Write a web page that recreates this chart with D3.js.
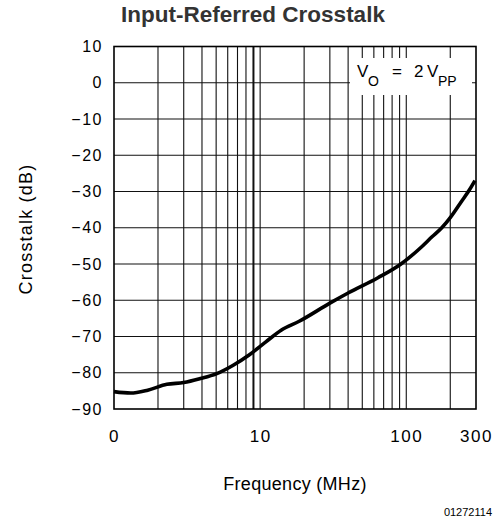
<!DOCTYPE html>
<html>
<head>
<meta charset="utf-8">
<script src="https://cdn.jsdelivr.net/npm/d3@7"></script>
<style>
  html, body { margin: 0; padding: 0; background: #fff; }
  svg { display: block; }
</style>
</head>
<body>
<div id="chart"></div>
<script>
// ---- data ----
const frequencyMHz = [1, 1.3, 1.7, 2.3, 3, 3.9, 5, 6.5, 8.4, 11, 14, 18.5, 30, 40, 64, 92, 127, 150, 175, 200, 238, 270, 295];
const crosstalkDb  = [-85.2, -85.6, -84.8, -83.2, -82.7, -81.6, -80.3, -78.0, -75.1, -71.4, -68.2, -65.8, -60.8, -58.0, -53.8, -50.0, -45.3, -42.5, -40.0, -37.2, -32.8, -29.6, -27.0];
const xTickValues = [1, 10, 100, 300];
const xTickLabels = ["0", "10", "100", "300"];
const yTickValues = [10, 0, -10, -20, -30, -40, -50, -60, -70, -80, -90];
const yTickLabels = ["10", "0", "\u221210", "\u221220", "\u221230", "\u221240", "\u221250", "\u221260", "\u221270", "\u221280", "\u221290"];
const xGridValues = [2, 3, 4, 5, 6, 7, 8, 9, 10, 20, 30, 40, 50, 60, 70, 80, 90, 100, 200];
const yGridValues = [0, -10, -20, -30, -40, -50, -60, -70, -80];
const titleText = "Input-Referred Crosstalk";
const xTitle = "Frequency (MHz)";
const yTitle = "Crosstalk (dB)";
const figureId = "01272114";

// ---- layout ----
const W = 504, H = 520;
const pLeft = 114, pRight = 476, pTop = 46.5, pBottom = 409;

const svg = d3.select("#chart").append("svg").attr("width", W).attr("height", H);

const x = d3.scaleLog().domain([1, 300]).range([pLeft, pRight]);
const y = d3.scaleLinear().domain([-90, 10]).range([pBottom, pTop]);

const font = "'Liberation Sans', Arial, sans-serif";

// gridlines
const grid = svg.append("g").attr("stroke", "#111").attr("stroke-width", 1.1);
grid.selectAll("line.v").data(xGridValues).join("line")
  .attr("class", "v")
  .attr("x1", d => x(d)).attr("x2", d => x(d))
  .attr("y1", pTop).attr("y2", pBottom)
  .attr("stroke-width", d => d === 9 ? 2 : 1.1);
grid.selectAll("line.h").data(yGridValues).join("line")
  .attr("class", "h")
  .attr("x1", pLeft).attr("x2", pRight)
  .attr("y1", d => y(d)).attr("y2", d => y(d));

// legend box (white, covering gridlines)
const lg = svg.append("g");
lg.append("rect")
  .attr("x", 350).attr("y", 58).attr("width", 122).attr("height", 37)
  .attr("fill", "#fff");
const lt = lg.append("text")
  .attr("font-family", font).attr("font-size", 17).attr("fill", "#000");
lt.append("tspan").attr("x", 357).attr("y", 77).text("V");
lt.append("tspan").attr("x", 368).attr("y", 86).attr("font-size", 14).text("O");
lt.append("tspan").attr("x", 392).attr("y", 77).text("=");
lt.append("tspan").attr("x", 414).attr("y", 77).text("2");
lt.append("tspan").attr("x", 427).attr("y", 77).text("V");
lt.append("tspan").attr("x", 438).attr("y", 86).attr("font-size", 14).text("PP");

// frame
svg.append("rect")
  .attr("x", pLeft).attr("y", pTop)
  .attr("width", pRight - pLeft).attr("height", pBottom - pTop)
  .attr("fill", "none").attr("stroke", "#000").attr("stroke-width", 1.6);

// curve
const line = d3.line()
  .x((d, i) => x(frequencyMHz[i]))
  .y(d => y(d))
  .curve(d3.curveMonotoneX);
svg.append("path")
  .datum(crosstalkDb)
  .attr("d", line)
  .attr("fill", "none")
  .attr("stroke", "#000")
  .attr("stroke-width", 3.6)
  .attr("stroke-linejoin", "round")
  .attr("stroke-linecap", "butt");

// axes
const xAxis = d3.axisBottom(x)
  .tickValues(xTickValues)
  .tickSize(0)
  .tickPadding(21)
  .tickFormat((d, i) => xTickLabels[i]);
const gx = svg.append("g").attr("transform", `translate(0,${pBottom})`).call(xAxis);
gx.select(".domain").remove();
gx.selectAll("text").attr("font-family", font).attr("font-size", 17).attr("fill", "#000")
  .attr("letter-spacing", 1.5);

const yAxis = d3.axisLeft(y)
  .tickValues(yTickValues)
  .tickSize(0)
  .tickPadding(11)
  .tickFormat((d, i) => yTickLabels[i]);
const gy = svg.append("g").attr("transform", `translate(${pLeft},0)`).call(yAxis);
gy.select(".domain").remove();
gy.selectAll("text").attr("font-family", font).attr("font-size", 16).attr("fill", "#000")
  .attr("letter-spacing", 1.5);

// titles
svg.append("text")
  .attr("x", 253).attr("y", 22)
  .attr("text-anchor", "middle")
  .attr("font-family", font).attr("font-weight", "bold").attr("font-size", 22.5)
  .attr("fill", "#333")
  .text(titleText);

svg.append("text")
  .attr("x", 295).attr("y", 490)
  .attr("text-anchor", "middle")
  .attr("font-family", font).attr("font-size", 18).attr("letter-spacing", 0.3)
  .attr("fill", "#000")
  .text(xTitle);

svg.append("text")
  .attr("transform", "translate(32,229) rotate(-90)")
  .attr("text-anchor", "middle")
  .attr("font-family", font).attr("font-size", 18).attr("letter-spacing", 1.2)
  .attr("fill", "#000")
  .text(yTitle);

svg.append("text")
  .attr("x", 492).attr("y", 516)
  .attr("text-anchor", "end")
  .attr("font-family", font).attr("font-size", 11)
  .attr("fill", "#000")
  .text(figureId);
</script>
</body>
</html>
